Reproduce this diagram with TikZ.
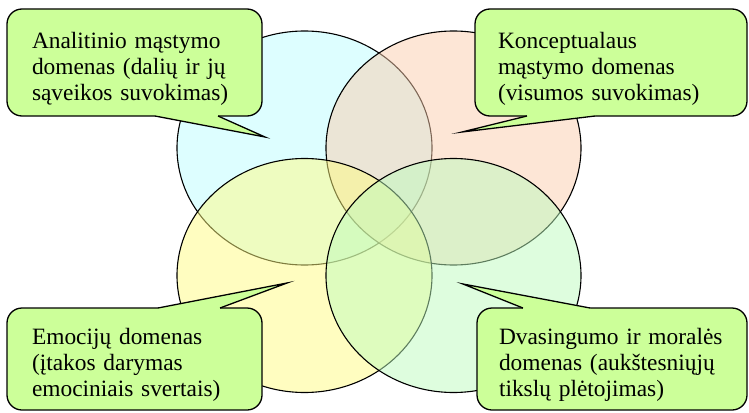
\documentclass[tikz,border=0pt]{standalone}
\usepackage{fontspec}
\setmainfont{Liberation Serif}
\usetikzlibrary{shapes.geometric}
\definecolor{analyticblue}{RGB}{187,253,255}
\definecolor{conceptpeach}{RGB}{251,205,173}
\definecolor{emotionyellow}{RGB}{255,251,129}
\definecolor{spiritgreen}{RGB}{189,251,189}
\definecolor{calloutgreen}{RGB}{204,255,153}
\begin{document}
\begin{tikzpicture}[x=1pt,y=-1pt,
  domainoval/.style={ellipse, draw=black, line width=1.1pt, fill opacity=0.5,
    minimum width=255pt, minimum height=234pt, inner sep=0pt, outer sep=0pt},
  callout/.style={draw=black, line width=1.3pt, fill=calloutgreen,
    rounded corners=15pt, anchor=north west, align=left, inner ysep=0pt,
    outer sep=0pt, font=\fontsize{23.4}{26}\selectfont, text height=28pt},
  pointerfill/.style={fill=calloutgreen},
  pointerline/.style={draw=black, line width=1.3pt, line join=miter, miter limit=30},
]
\useasboundingbox (0,0) rectangle (749,412);

% four overlapping domains
\node[domainoval, fill=analyticblue]  (analytic)   at (304.5,148) {};
\node[domainoval, fill=conceptpeach]  (conceptual) at (453.5,148) {};
\node[domainoval, fill=emotionyellow] (emotion)    at (304.5,275.5) {};
\node[domainoval, fill=spiritgreen]   (spirit)     at (453.5,275.5) {};

% callout boxes
\node[callout, inner xsep=25pt, text width=205pt, minimum height=107pt] (c1) at (7,9)
  {Analitinio mąstymo\\domenas (dalių ir jų\\sąveikos suvokimas)};
\node[callout, inner xsep=23pt, text width=226pt, minimum height=107pt] (c2) at (475,9)
  {Konceptualaus\\mąstymo domenas\\(visumos suvokimas)};
\node[callout, inner xsep=25pt, text width=205pt, minimum height=102pt] (c3) at (7,308)
  {Emocijų domenas\\(įtakos darymas\\emociniais svertais)};
\node[callout, inner xsep=22pt, text width=226pt, minimum height=102pt] (c4) at (477,308)
  {Dvasingumo ir moralės\\domenas (aukštesniųjų\\tikslų plėtojimas)};

% pointer tips and base points
\coordinate (t1) at (265,137);
\coordinate (t1a) at (155,116);
\coordinate (t1b) at (218,116);
\coordinate (t2) at (462,132);
\coordinate (t2a) at (527,116);
\coordinate (t2b) at (595,116);
\coordinate (t3) at (287,283);
\coordinate (t3a) at (158,308);
\coordinate (t3b) at (220,308);
\coordinate (t4) at (463,284);
\coordinate (t4a) at (523,308);
\coordinate (t4b) at (590,308);

% pointers: the fill reaches into the box to hide its border under the base
\fill[pointerfill] (t1) -- (t1a) -- ([yshift=4pt]t1a) -- ([yshift=4pt]t1b) -- (t1b) -- cycle;
\draw[pointerline] (t1a) -- (t1) -- (t1b);
\fill[pointerfill] (t2) -- (t2a) -- ([yshift=4pt]t2a) -- ([yshift=4pt]t2b) -- (t2b) -- cycle;
\draw[pointerline] (t2a) -- (t2) -- (t2b);
\fill[pointerfill] (t3) -- (t3a) -- ([yshift=-4pt]t3a) -- ([yshift=-4pt]t3b) -- (t3b) -- cycle;
\draw[pointerline] (t3a) -- (t3) -- (t3b);
\fill[pointerfill] (t4) -- (t4a) -- ([yshift=-4pt]t4a) -- ([yshift=-4pt]t4b) -- (t4b) -- cycle;
\draw[pointerline] (t4a) -- (t4) -- (t4b);
\end{tikzpicture}
\end{document}
